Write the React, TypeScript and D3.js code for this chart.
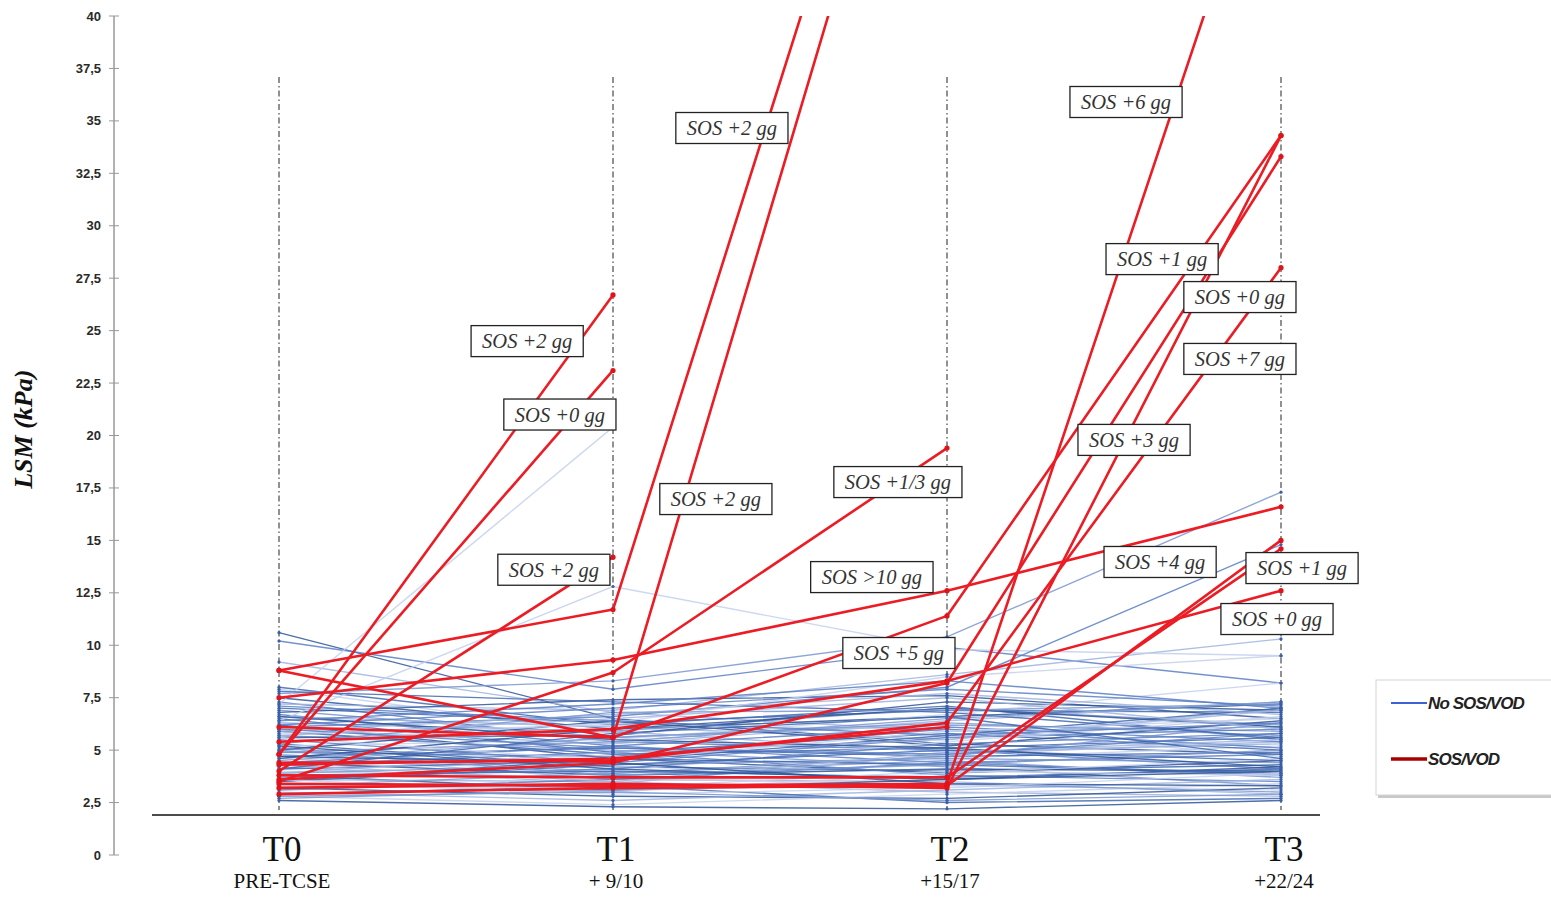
import React, { useEffect, useRef } from "react";
import * as d3 from "d3";

const timepoints = ["T0", "T1", "T2", "T3"];
const timeSublabels = ["PRE-TCSE", "+ 9/10", "+15/17", "+22/24"];
const yTicks = [0, 2.5, 5, 7.5, 10, 12.5, 15, 17.5, 20, 22.5, 25, 27.5, 30, 32.5, 35, 37.5, 40];

// LSM (kPa) at T0..T3, patients who developed SOS/VOD (null = no measure)
const sosPatients: (number | null)[][] = [
  [4.8, 26.7, null, null],
  [4.8, 23.1, null, null],
  [4.0, 14.2, null, null],
  [8.8, 11.7, 62, null],
  [8.8, 5.6, 59, null],
  [7.5, 9.3, 12.6, 16.6],
  [3.5, 8.7, 19.4, null],
  [6.1, 5.6, 11.4, 34.3],
  [3.6, 4.4, 8.2, 33.3],
  [3.4, 3.3, 3.4, 51],
  [4.4, 4.5, 6.3, 28.0],
  [2.9, 3.2, 3.3, 15.0],
  [3.8, 3.7, 3.7, 14.6],
  [3.2, 3.4, 3.2, 34.3],
  [5.4, 6.0, 8.3, 12.6],
  [4.3, 4.6, 6.1, null],
];

// LSM (kPa) at T0..T3, patients without SOS/VOD
const noSosPatients: (number | null)[][] = [
  [10.6, 6.5, 5.3, 4.8],
  [10.2, 7.9, 9.9, 8.2],
  [9.2, 6.8, 5.9, 6.1],
  [8.0, 6.2, 7.1, 5.5],
  [7.9, 5.8, 4.6, 5.2],
  [7.7, 8.3, 10.4, 17.3],
  [7.5, 6.0, 6.6, 7.2],
  [7.3, 5.4, 5.0, 4.1],
  [7.2, 6.9, 8.6, 10.3],
  [7.0, 6.3, 6.9, 6.8],
  [7.2, 20.4, null, null],
  [6.9, 5.6, 6.2, 5.9],
  [6.8, 7.4, 7.6, 6.5],
  [6.7, 5.2, 4.4, 3.8],
  [6.6, 6.1, 5.5, 7.0],
  [6.5, 4.9, 5.8, 5.0],
  [6.4, 12.8, 9.8, 9.5],
  [6.3, 5.9, 7.0, 6.2],
  [6.2, 4.6, 3.9, 4.5],
  [6.1, 6.6, 8.0, 14.8],
  [6.0, 5.3, 6.4, 7.3],
  [5.9, 4.8, 5.1, 5.6],
  [5.8, 6.2, 6.0, 4.7],
  [5.7, 5.0, 4.2, 3.3],
  [5.6, 5.7, 7.3, 6.9],
  [5.5, 4.4, 5.6, 6.0],
  [5.4, 5.9, 4.9, 5.3],
  [5.3, 4.2, 4.0, 4.3],
  [5.2, 5.5, 6.7, 8.2],
  [5.1, 3.9, 4.5, 3.7],
  [5.0, 6.4, 5.2, 6.4],
  [4.9, 4.7, 6.0, 5.1],
  [4.8, 3.6, 3.5, 2.9],
  [4.7, 5.1, 4.7, 4.9],
  [4.6, 4.0, 5.4, 6.6],
  [4.5, 5.6, 6.3, 5.7],
  [4.4, 3.8, 4.1, 4.0],
  [4.3, 4.9, 3.8, 3.5],
  [4.2, 3.4, 4.8, 5.4],
  [4.1, 4.5, 5.7, 7.0],
  [4.0, 3.7, 3.3, 3.1],
  [3.9, 4.3, 4.6, 4.4],
  [3.8, 3.1, 3.6, 4.2],
  [3.7, 4.1, 5.3, 5.8],
  [3.6, 3.5, 3.0, 2.8],
  [3.5, 4.6, 4.3, 3.9],
  [3.4, 3.0, 3.9, 4.6],
  [3.3, 3.9, 4.7, 6.3],
  [3.2, 2.8, 2.7, 3.2],
  [3.1, 3.6, 4.4, 4.8],
  [3.0, 2.6, 3.1, 3.6],
  [2.9, 3.3, 2.5, 2.7],
  [2.8, 2.4, 2.9, 3.4],
  [2.7, 3.1, 3.4, 3.0],
  [2.6, 2.3, 2.2, 2.6],
  [6.2, 7.0, 7.9, 7.1],
  [5.9, 6.7, 7.7, 6.7],
  [7.8, 7.3, 6.8, 5.6],
  [5.4, 6.3, 8.5, 9.5],
  [4.9, 5.4, 6.5, 7.3],
  [4.6, 6.0, 7.0, 6.1],
  [4.4, 5.2, 6.1, 5.4],
  [3.9, 4.9, 5.5, 6.9],
  [3.5, 4.3, 5.0, 4.5],
  [5.6, 4.5, 5.9, 6.5],
  [5.0, 3.8, 4.3, 5.0],
  [6.6, 5.5, 5.1, 4.2],
  [7.1, 6.4, 5.7, 6.3],
  [4.3, 3.5, 4.9, 5.5],
  [3.8, 4.0, 3.7, 4.1],
  [3.3, 3.2, 4.0, 3.8],
  [5.3, 6.8, 6.9, 7.2],
  [4.7, 4.4, 3.4, 3.3],
  [6.0, 5.1, 4.8, 5.8],
  [5.7, 6.5, 7.5, 6.0],
  [4.1, 5.8, 6.6, 4.6],
  [3.6, 2.9, 3.2, 3.9],
  [2.8, 3.0, 2.6, 2.9],
  [5.2, 4.1, 3.6, 4.0],
  [6.4, 7.2, 8.3, 7.0],
];

// annotation boxes: t = position along the time axis (0..3), v = LSM level
const sosNotes = [
  { text: "SOS +2 gg", t: 0.743, v: 24.5 },
  { text: "SOS +0 gg", t: 0.841, v: 21.0 },
  { text: "SOS +2 gg", t: 0.823, v: 13.6 },
  { text: "SOS +2 gg", t: 1.356, v: 34.66 },
  { text: "SOS +2 gg", t: 1.308, v: 16.97 },
  { text: "SOS +1/3 gg", t: 1.853, v: 17.78 },
  { text: "SOS >10 gg", t: 1.775, v: 13.25 },
  { text: "SOS +5 gg", t: 1.856, v: 9.63 },
  { text: "SOS +6 gg", t: 2.536, v: 35.9 },
  { text: "SOS +1 gg", t: 2.644, v: 28.41 },
  { text: "SOS +0 gg", t: 2.877, v: 26.6 },
  { text: "SOS +7 gg", t: 2.877, v: 23.65 },
  { text: "SOS +3 gg", t: 2.56, v: 19.79 },
  { text: "SOS +4 gg", t: 2.638, v: 13.97 },
  { text: "SOS +1 gg", t: 3.063, v: 13.68 },
  { text: "SOS +0 gg", t: 2.988, v: 11.25 },
];

const legendItems = [
  { label: "No SOS/VOD", color: "#3b63d6", width: 2 },
  { label: "SOS/VOD", color: "#a80000", width: 3.5 },
];

const bluePalette = ["#2f5597", "#5b7fc4", "#9fb4de", "#3f67b0", "#c4d1ec", "#7a96cf"];

const width = 1551;
const height = 898;

const App = () => {
  const svgRef = useRef<SVGSVGElement>(null);

  useEffect(() => {
    const svg = d3.select(svgRef.current);
    svg.selectAll("*").remove();

    const x = d3.scaleLinear().domain([0, 3]).range([279, 1281]);
    const y = d3.scaleLinear().domain([0, 40]).range([855, 16]);
    const serif = "'Liberation Serif', 'DejaVu Serif', serif";

    svg
      .append("defs")
      .append("clipPath")
      .attr("id", "plotClip")
      .append("rect")
      .attr("x", 0)
      .attr("y", y(40))
      .attr("width", width)
      .attr("height", y(0) - y(40));

    // y axis with "-|-" ticks
    const yAxis = svg.append("g");
    yAxis
      .append("line")
      .attr("x1", 114)
      .attr("x2", 114)
      .attr("y1", y(0))
      .attr("y2", y(40))
      .attr("stroke", "#999")
      .attr("stroke-width", 1.5);
    yAxis
      .selectAll(".tick")
      .data(yTicks)
      .enter()
      .append("line")
      .attr("x1", 109)
      .attr("x2", 119)
      .attr("y1", (d) => y(d))
      .attr("y2", (d) => y(d))
      .attr("stroke", "#999");
    yAxis
      .selectAll(".lbl")
      .data(yTicks)
      .enter()
      .append("text")
      .attr("x", 101)
      .attr("y", (d) => y(d))
      .attr("dy", "0.35em")
      .attr("text-anchor", "end")
      .attr("font-family", "'Liberation Sans', Arial, sans-serif")
      .attr("font-weight", "bold")
      .attr("font-size", 13)
      .attr("fill", "#2a2a2a")
      .text((d) => String(d).replace(".", ","));

    svg
      .append("text")
      .attr("transform", `translate(32,${y(20.3)}) rotate(-90)`)
      .attr("text-anchor", "middle")
      .attr("font-family", serif)
      .attr("font-style", "italic")
      .attr("font-weight", "bold")
      .attr("font-size", 26)
      .attr("fill", "#111")
      .text("LSM (kPa)");

    // vertical dash-dot guides at each timepoint
    svg
      .append("g")
      .selectAll("line")
      .data(timepoints)
      .enter()
      .append("line")
      .attr("x1", (_, i) => x(i))
      .attr("x2", (_, i) => x(i))
      .attr("y1", 77)
      .attr("y2", 810)
      .attr("stroke", "#222")
      .attr("stroke-width", 1)
      .attr("stroke-dasharray", "6,3,1.5,3");

    const line = d3
      .line<number | null>()
      .defined((d) => d !== null)
      .x((_, i) => x(i))
      .y((d) => y(d as number));

    const plot = svg.append("g").attr("clip-path", "url(#plotClip)");

    // no SOS/VOD patients
    plot
      .append("g")
      .selectAll("path")
      .data(noSosPatients)
      .enter()
      .append("path")
      .attr("d", (d) => line(d))
      .attr("fill", "none")
      .attr("stroke", (_, i) => bluePalette[i % bluePalette.length])
      .attr("stroke-opacity", 0.85)
      .attr("stroke-width", 1.4);

    plot
      .append("g")
      .selectAll("circle")
      .data(noSosPatients.flatMap((p) => p.map((v, i) => ({ v, i }))).filter((d) => d.v !== null))
      .enter()
      .append("circle")
      .attr("cx", (d) => x(d.i))
      .attr("cy", (d) => y(d.v as number))
      .attr("r", 1.6)
      .attr("fill", "#3a5ea8");

    // SOS/VOD patients
    plot
      .append("g")
      .selectAll("path")
      .data(sosPatients)
      .enter()
      .append("path")
      .attr("d", (d) => line(d))
      .attr("fill", "none")
      .attr("stroke", "#ec1c24")
      .attr("stroke-width", 2.6)
      .attr("stroke-linejoin", "round");

    plot
      .append("g")
      .selectAll("circle")
      .data(sosPatients.flatMap((p) => p.map((v, i) => ({ v, i }))).filter((d) => d.v !== null && d.v <= 40))
      .enter()
      .append("circle")
      .attr("cx", (d) => x(d.i))
      .attr("cy", (d) => y(d.v as number))
      .attr("r", 2.6)
      .attr("fill", "#e0121a");

    // baseline
    svg
      .append("line")
      .attr("x1", 152)
      .attr("x2", 1320)
      .attr("y1", 815)
      .attr("y2", 815)
      .attr("stroke", "#111")
      .attr("stroke-width", 1.5);

    // x labels
    const xl = svg.append("g").attr("font-family", serif).attr("fill", "#111").attr("text-anchor", "middle");
    xl.selectAll(".tp")
      .data(timepoints)
      .enter()
      .append("text")
      .attr("x", (_, i) => x(i) + 3)
      .attr("y", 861)
      .attr("font-size", 35)
      .text((d) => d);
    xl.selectAll(".sub")
      .data(timeSublabels)
      .enter()
      .append("text")
      .attr("x", (_, i) => x(i) + 3)
      .attr("y", 888)
      .attr("font-size", 21)
      .text((d) => d);

    // annotation boxes
    const notes = svg
      .append("g")
      .selectAll("g")
      .data(sosNotes)
      .enter()
      .append("g")
      .attr("transform", (d) => `translate(${x(d.t)},${y(d.v)})`);
    const boxes = notes.append("rect");
    const texts = notes
      .append("text")
      .attr("text-anchor", "middle")
      .attr("dy", "0.35em")
      .attr("font-family", serif)
      .attr("font-style", "italic")
      .attr("font-size", 20.5)
      .attr("fill", "#333")
      .text((d) => d.text);
    texts.each(function (_, i) {
      const w = (this as SVGTextElement).getComputedTextLength() + 22;
      d3.select(boxes.nodes()[i])
        .attr("x", -w / 2)
        .attr("y", -15.5)
        .attr("width", w)
        .attr("height", 31)
        .attr("fill", "#fff")
        .attr("stroke", "#222")
        .attr("stroke-width", 1.3);
    });

    // legend
    const lg = svg.append("g").attr("transform", "translate(1376,680)");
    lg.append("rect").attr("x", 2).attr("y", 3).attr("width", 190).attr("height", 115).attr("fill", "#c8c8c8");
    lg.append("rect").attr("width", 190).attr("height", 115).attr("fill", "#fff").attr("stroke", "#d4d4d4");
    const li = lg
      .selectAll(".item")
      .data(legendItems)
      .enter()
      .append("g")
      .attr("transform", (_, i) => `translate(0,${23 + i * 56})`);
    li.append("line")
      .attr("x1", 15)
      .attr("x2", 51)
      .attr("stroke", (d) => d.color)
      .attr("stroke-width", (d) => d.width);
    li.append("text")
      .attr("x", 52)
      .attr("dy", "0.35em")
      .attr("font-family", "'Liberation Sans Narrow', 'Liberation Sans', Arial, sans-serif")
      .attr("font-style", "italic")
      .attr("font-weight", "bold")
      .attr("font-size", 17)
      .attr("fill", "#222")
      .attr("letter-spacing", -0.9)
      .text((d) => d.label);
  }, []);

  return (
    <div style={{ position: "fixed", left: 0, top: 0 }}>
      <svg ref={svgRef} width={width} height={height} style={{ display: "block", background: "#fff" }}></svg>
    </div>
  );
};

export default App;
